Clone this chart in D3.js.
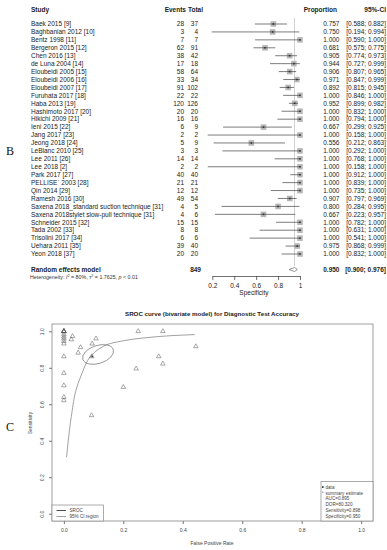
<!DOCTYPE html>
<html>
<head>
<meta charset="utf-8">
<script src="https://cdn.jsdelivr.net/npm/d3@7"></script>
<style>
  body { margin: 0; background: #fff; }
  svg { display: block; font-family: "Liberation Sans", Arial, sans-serif; }
</style>
</head>
<body>
<div id="chart"></div>
<script>
// forest plot data (B)
const studies = ['Baek 2015 [9]', 'Baghbanian 2012 [10]', 'Bentz 1998 [11]', 'Bergeron 2015 [12]',
  'Chen 2016 [13]', 'de Luna 2004 [14]', 'Eloubeidi 2005 [15]', 'Eloubeidi 2006 [16]',
  'Eloubeidi 2007 [17]', 'Furuhata 2017 [18]', 'Haba 2013 [19]', 'Hashimoto 2017 [20]',
  'Hikichi 2009 [21]', 'Ieni 2015 [22]', 'Jang 2017 [23]', 'Jeong 2018 [24]', 'LeBlanc 2010 [25]',
  'Lee 2011 [26]', 'Lee 2018 [2]', 'Park 2017 [27]', 'PELLISE´ 2003 [28]', 'Qin 2014 [29]',
  'Ramesh 2016 [30]', 'Saxena 2018_standard suction technique [31]',
  'Saxena 2018stylet slow-pull technique [31]', 'Schneider 2015 [32]', 'Tada 2002 [33]',
  'Trisolini 2017 [34]', 'Uehara 2011 [35]', 'Yeon 2018 [37]'];
const events = [28, 3, 7, 62, 38, 17, 58, 33, 91, 22, 120, 20, 16, 6, 2, 5, 3, 14, 2, 40, 21, 12, 49, 4, 4, 15, 8, 6, 39, 20];
const totals = [37, 4, 7, 91, 42, 18, 64, 34, 102, 22, 126, 20, 16, 9, 2, 9, 3, 14, 2, 40, 21, 12, 54, 5, 6, 15, 8, 6, 40, 20];
const proportion = [0.757, 0.750, 1.000, 0.681, 0.905, 0.944, 0.906, 0.971, 0.892, 1.000, 0.952, 1.000,
  1.000, 0.667, 1.000, 0.556, 1.000, 1.000, 1.000, 1.000, 1.000, 1.000, 0.907, 0.800, 0.667, 1.000,
  1.000, 1.000, 0.975, 1.000];
const ciLow = [0.588, 0.194, 0.590, 0.575, 0.774, 0.727, 0.807, 0.847, 0.815, 0.846, 0.899, 0.832,
  0.794, 0.299, 0.158, 0.212, 0.292, 0.768, 0.158, 0.912, 0.839, 0.735, 0.797, 0.284, 0.223, 0.782,
  0.631, 0.541, 0.868, 0.832];
const ciHigh = [0.882, 0.994, 1.000, 0.775, 0.973, 0.999, 0.965, 0.999, 0.945, 1.000, 0.982, 1.000,
  1.000, 0.925, 1.000, 0.863, 1.000, 1.000, 1.000, 1.000, 1.000, 1.000, 0.969, 0.995, 0.957, 1.000,
  1.000, 1.000, 0.999, 1.000];
const pooled = { total: 849, est: 0.950, low: 0.900, high: 0.976 };
const forestTicks = [0.2, 0.4, 0.6, 0.8, 1];

// SROC data (C), one point per study
const srocFpr = [0.243, 0.250, 0, 0.319, 0.095, 0.056, 0.094, 0.029, 0.108, 0, 0.048, 0, 0, 0.333, 0,
  0.444, 0, 0, 0, 0, 0, 0, 0.093, 0.200, 0.333, 0, 0, 0, 0.025, 0];
const srocSens = [0.795, 1.000, 1.000, 0.862, 0.932, 0.912, 0.862, 0.973, 0.960, 0.982, 0.882, 1.000,
  0.970, 1.000, 1.000, 0.917, 0.959, 0.946, 1.000, 0.932, 0.862, 0.771, 0.539, 0.694, 0.822, 0.703,
  0.639, 0.621, 0.955, 1.000];
// SROC curve
const curveFpr = [0.009, 0.016, 0.022, 0.028, 0.034, 0.045, 0.056, 0.080, 0.100, 0.130, 0.200, 0.260, 0.370, 0.440];
const curveSens = [0.31, 0.42, 0.50, 0.566, 0.63, 0.70, 0.749, 0.84, 0.88, 0.915, 0.948, 0.962, 0.977, 0.982];
const summaryPoint = { fpr: 0.095, sens: 0.862 };
const srocTicks = [0, 0.2, 0.4, 0.6, 0.8, 1];
const srocStats = ['AUC=0.895', 'DOR=80.320', 'Sensitivity=0.898', 'Specificity=0.950'];

const W = 387, H = 550;
const svg = d3.select('#chart').append('svg')
  .attr('width', W).attr('height', H);

const ink = '#222';

// ---------- B: forest plot ----------
const x = d3.scaleLinear().domain([0.2, 1]).range([212.3, 300]);
const rowY = d3.scaleLinear().domain([0, 29]).range([24, 254]);
const fs = 6.5;

const head = svg.append('g').attr('font-size', fs).attr('font-weight', 'bold').attr('fill', ink);
head.append('text').attr('x', 31).attr('y', 12).text('Study');
head.append('text').attr('x', 186).attr('y', 12).attr('text-anchor', 'end').text('Events');
head.append('text').attr('x', 203).attr('y', 12).attr('text-anchor', 'end').text('Total');
head.append('text').attr('x', 337).attr('y', 12).attr('text-anchor', 'end').text('Proportion');
head.append('text').attr('x', 386).attr('y', 12).attr('text-anchor', 'end').text('95%-CI');

// reference line at pooled estimate
svg.append('line')
  .attr('x1', x(pooled.est)).attr('x2', x(pooled.est))
  .attr('y1', 18).attr('y2', 266)
  .attr('stroke', '#c4c4c4').attr('stroke-width', 0.8);

const rows = svg.append('g').selectAll('g')
  .data(studies)
  .enter().append('g')
  .attr('transform', function(d, i) { return 'translate(0,' + rowY(i) + ')'; });

rows.append('text').attr('x', 31).attr('dy', '0.35em')
  .attr('font-size', fs).attr('fill', ink).text(function(d) { return d; });
rows.append('text').attr('x', 184).attr('dy', '0.35em').attr('text-anchor', 'end')
  .attr('font-size', fs).attr('fill', ink).text(function(d, i) { return events[i]; });
rows.append('text').attr('x', 198).attr('dy', '0.35em').attr('text-anchor', 'end')
  .attr('font-size', fs).attr('fill', ink).text(function(d, i) { return totals[i]; });
rows.append('text').attr('x', 339.5).attr('dy', '0.35em').attr('text-anchor', 'end')
  .attr('font-size', fs).attr('fill', ink).text(function(d, i) { return proportion[i].toFixed(3); });
rows.append('text').attr('x', 386).attr('dy', '0.35em').attr('text-anchor', 'end')
  .attr('font-size', fs).attr('fill', ink)
  .text(function(d, i) { return '[' + ciLow[i].toFixed(3) + '; ' + ciHigh[i].toFixed(3) + ']'; });

rows.append('rect')
  .attr('x', function(d, i) { return x(proportion[i]) - 2.8; })
  .attr('y', -2.8).attr('width', 5.6).attr('height', 5.6)
  .attr('fill', '#b8b8b8');
rows.append('line')
  .attr('x1', function(d, i) { return x(ciLow[i]); })
  .attr('x2', function(d, i) { return x(ciHigh[i]); })
  .attr('stroke', '#444').attr('stroke-width', 0.7);
rows.append('rect')
  .attr('x', function(d, i) { return x(proportion[i]) - 0.8; })
  .attr('y', -0.8).attr('width', 1.6).attr('height', 1.6)
  .attr('fill', '#333');

// pooled row
const yPool = 269.5;
const pool = svg.append('g').attr('font-size', fs).attr('font-weight', 'bold').attr('fill', ink);
pool.append('text').attr('x', 31).attr('y', yPool).attr('dy', '0.35em').text('Random effects model');
pool.append('text').attr('x', 201).attr('y', yPool).attr('dy', '0.35em').attr('text-anchor', 'end').text(pooled.total);
pool.append('text').attr('x', 339.5).attr('y', yPool).attr('dy', '0.35em').attr('text-anchor', 'end')
  .text(pooled.est.toFixed(3));
pool.append('text').attr('x', 386).attr('y', yPool).attr('dy', '0.35em').attr('text-anchor', 'end')
  .text('[' + pooled.low.toFixed(3) + '; ' + pooled.high.toFixed(3) + ']');

svg.append('path')
  .attr('d', 'M' + x(pooled.low) + ',' + yPool + 'L' + x(pooled.est) + ',' + (yPool - 2) +
    'L' + x(pooled.high) + ',' + yPool + 'L' + x(pooled.est) + ',' + (yPool + 2) + 'Z')
  .attr('fill', '#fff').attr('stroke', '#666').attr('stroke-width', 0.7);

const het = svg.append('text').attr('x', 30).attr('y', 278.5)
  .attr('font-size', 5.3).attr('fill', '#333');
het.append('tspan').text('Heterogeneity: ');
het.append('tspan').attr('font-style', 'italic').text('I');
het.append('tspan').attr('font-size', 3.8).attr('dy', -2).text('2');
het.append('tspan').attr('dy', 2).text(' = 80%, \u03c4');
het.append('tspan').attr('font-size', 3.8).attr('dy', -2).text('2');
het.append('tspan').attr('dy', 2).text(' = 1.7625, ');
het.append('tspan').attr('font-style', 'italic').text('p');
het.append('tspan').text(' < 0.01');

const forestAxis = svg.append('g')
  .attr('transform', 'translate(0,276)')
  .call(d3.axisBottom(x).tickValues(forestTicks).tickFormat(d3.format('')).tickSize(4).tickSizeOuter(0));
forestAxis.select('.domain').attr('stroke', '#333').attr('stroke-width', 0.7);
forestAxis.selectAll('.tick line').attr('stroke', '#333').attr('stroke-width', 0.7);
forestAxis.selectAll('.tick text').attr('font-size', fs).attr('fill', ink)
  .attr('font-family', '"Liberation Sans", Arial, sans-serif').attr('y', 7);

svg.append('text').attr('x', 254).attr('y', 294.5).attr('text-anchor', 'middle')
  .attr('font-size', fs).attr('fill', ink).text('Specificity');

svg.append('text').attr('x', 6).attr('y', 155)
  .attr('font-family', '"Liberation Serif", "DejaVu Serif", serif')
  .attr('font-size', 12).attr('fill', '#111').text('B');

// ---------- C: SROC curve ----------
const sx = d3.scaleLinear().domain([-0.04, 1.04]).range([52, 373]);
const sy = d3.scaleLinear().domain([-0.04, 1.04]).range([521, 324]);

svg.append('text').attr('x', 212).attr('y', 316)
  .attr('text-anchor', 'middle').attr('font-size', 6.2).attr('font-weight', 'bold').attr('fill', ink)
  .text('SROC curve (bivariate model) for Diagnostic Test Accuracy');

svg.append('rect').attr('x', 52).attr('y', 324).attr('width', 321).attr('height', 197)
  .attr('fill', 'none').attr('stroke', '#888').attr('stroke-width', 0.8);

const xAxisC = svg.append('g').attr('transform', 'translate(0,521)')
  .call(d3.axisBottom(sx).tickValues(srocTicks).tickFormat(d3.format('.1f')).tickSize(3).tickSizeOuter(0));
xAxisC.select('.domain').remove();
xAxisC.selectAll('.tick line').attr('stroke', '#777');
xAxisC.selectAll('.tick text').attr('font-size', 5).attr('fill', '#444').attr('y', 7)
  .attr('font-family', '"Liberation Sans", Arial, sans-serif');

const yAxisC = svg.append('g').attr('transform', 'translate(52,0)')
  .call(d3.axisLeft(sy).tickValues(srocTicks).tickFormat(d3.format('.1f')).tickSize(3).tickSizeOuter(0));
yAxisC.select('.domain').remove();
yAxisC.selectAll('.tick line').attr('stroke', '#777');
yAxisC.selectAll('.tick text').attr('font-size', 5).attr('fill', '#444')
  .attr('font-family', '"Liberation Sans", Arial, sans-serif')
  .attr('x', 0).attr('y', 0).attr('dy', 0)
  .attr('text-anchor', 'middle')
  .attr('transform', 'translate(-8.5,0) rotate(-90)');

svg.append('text').attr('transform', 'translate(32,423) rotate(-90)')
  .attr('text-anchor', 'middle').attr('font-size', 5).attr('fill', '#444').text('Sensitivity');
svg.append('text').attr('x', 212).attr('y', 545)
  .attr('text-anchor', 'middle').attr('font-size', 5).attr('fill', '#444').text('False Positive Rate');

// 95% confidence region
svg.append('ellipse')
  .attr('cx', 0).attr('cy', 0).attr('rx', 16).attr('ry', 9)
  .attr('transform', 'translate(' + sx(0.115) + ',' + sy(0.873) + ') rotate(-18)')
  .attr('fill', 'none').attr('stroke', '#777').attr('stroke-width', 0.7);

// SROC curve
const curveLine = d3.line()
  .x(function(d, i) { return sx(curveFpr[i]); })
  .y(function(d, i) { return sy(curveSens[i]); })
  .curve(d3.curveMonotoneX);
svg.append('path').datum(curveFpr)
  .attr('d', curveLine)
  .attr('fill', 'none').attr('stroke', '#777').attr('stroke-width', 0.7);

// study points as open triangles
const tri = d3.symbol().type(d3.symbolTriangle).size(9);
svg.append('g').selectAll('path')
  .data(srocFpr)
  .enter().append('path')
  .attr('d', tri)
  .attr('transform', function(d, i) { return 'translate(' + sx(d) + ',' + sy(srocSens[i]) + ')'; })
  .attr('fill', 'none').attr('stroke', '#555').attr('stroke-width', 0.5);

svg.append('circle')
  .attr('cx', sx(summaryPoint.fpr)).attr('cy', sy(summaryPoint.sens)).attr('r', 0.9)
  .attr('fill', '#333');

// legend, bottom left
const legL = svg.append('g');
legL.append('rect').attr('x', 52).attr('y', 505).attr('width', 51.5).attr('height', 16)
  .attr('fill', '#fff').attr('stroke', '#888').attr('stroke-width', 0.7);
legL.append('line').attr('x1', 56.5).attr('x2', 66).attr('y1', 510.5).attr('y2', 510.5)
  .attr('stroke', '#222').attr('stroke-width', 0.8);
legL.append('line').attr('x1', 56.5).attr('x2', 66).attr('y1', 516.5).attr('y2', 516.5)
  .attr('stroke', '#888').attr('stroke-width', 0.8);
legL.append('text').attr('x', 69.5).attr('y', 512.3).attr('font-size', 4.6).attr('fill', '#444').text('SROC');
legL.append('text').attr('x', 69.5).attr('y', 518.3).attr('font-size', 4.6).attr('fill', '#444').text('95% CI region');

// legend, bottom right
const legR = svg.append('g');
legR.append('rect').attr('x', 321).attr('y', 481.5).attr('width', 52).attr('height', 39.5)
  .attr('fill', '#fff').attr('stroke', '#888').attr('stroke-width', 0.7);
legR.append('rect').attr('x', 322).attr('y', 486.3).attr('width', 1.6).attr('height', 1.6).attr('fill', '#222');
legR.append('circle').attr('cx', 322.8).attr('cy', 492.3).attr('r', 0.8).attr('fill', '#999');
const legRows = ['data', 'summary estimate'].concat(srocStats);
legR.selectAll('text').data(legRows).enter().append('text')
  .attr('x', 325.5)
  .attr('y', function(d, i) { return 488.8 + i * 5.8; })
  .attr('font-size', 4.6).attr('fill', '#444')
  .text(function(d) { return d; });

svg.append('text').attr('x', 6).attr('y', 431)
  .attr('font-family', '"Liberation Serif", "DejaVu Serif", serif')
  .attr('font-size', 12).attr('fill', '#111').text('C');
</script>
</body>
</html>
